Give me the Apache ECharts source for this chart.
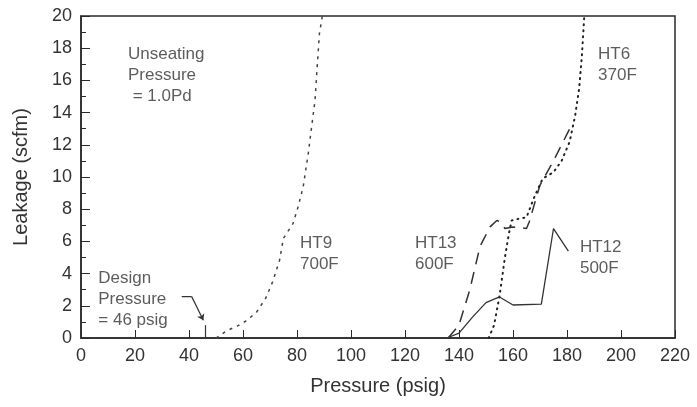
<!DOCTYPE html>
<html>
<head>
<meta charset="utf-8">
<script src="https://cdn.jsdelivr.net/npm/echarts@6/dist/echarts.min.js"></script>
<style>
  html, body { margin: 0; padding: 0; background: #fff; }
  #chart { width: 697px; height: 407px; }
</style>
</head>
<body>
<div id="chart"></div>
<script>
// leakage curves, [pressure psig, leakage scfm]
var ht9 = [[50,0],[54,0.45],[58,0.75],[61,1.05],[65,1.6],[68.5,2.5],[71,3.5],[73.5,4.8],[75,6.2],[78.5,7.1],[80.5,8.2],[82.3,9.4],[84.2,11.5],[85.4,13.1],[86.7,14.8],[87.5,16.9],[88.3,18.9],[89.4,20]];
var ht13 = [[136,0],[140,0.8],[144,3],[147.8,5.7],[151.5,6.9],[154,7.3],[155.5,7.2],[157,6.8],[160,6.9],[165,6.8],[166,7.2],[170,9.5],[175,11],[181,13]];
var ht6 = [[151,0],[153,0.8],[155,2.6],[157,5],[158.5,6.5],[159.5,7.3],[162,7.4],[165,7.5],[168,8.8],[171,9.9],[175,10.3],[178,11],[181,12.2],[183,13.8],[184.5,15.5],[185.5,17.5],[186.4,20]];
var ht12 = [[135.5,0],[140,0.3],[145,1.3],[150,2.2],[155,2.55],[160,2.05],[170.5,2.1],[175,6.8],[180.5,5.4]];

var xTicks = [0, 220, 20];
var yTicks = [0, 20, 2];

// text notes: [x, y, text]
var notes = [
  [17.4, 16.3, 'Unseating\nPressure\n = 1.0Pd'],
  [81.1, 5.25, 'HT9\n700F'],
  [123.7, 5.2, 'HT13\n600F'],
  [184.8, 5.0, 'HT12\n500F'],
  [191.5, 16.96, 'HT6\n370F'],
  [6.4, 2.4, 'Design\nPressure\n= 46 psig']
];
var designLeader = [[37.3,2.57],[41,2.57],[45.3,1.1]];
var designMark = 46;

var font = 'Liberation Sans, Arial, sans-serif';
var ink = '#2a2a2a';

var chart = echarts.init(document.getElementById('chart'));
var option = {
  animation: false,
  backgroundColor: '#fff',
  grid: { left: 81, right: 22, top: 16, bottom: 69, show: true, borderColor: ink, borderWidth: 1.5 },
  xAxis: {
    type: 'value', min: xTicks[0], max: xTicks[1], interval: xTicks[2],
    name: 'Pressure (psig)', nameLocation: 'middle', nameGap: 38,
    nameTextStyle: { fontFamily: font, fontSize: 20, color: '#333' },
    axisLine: { lineStyle: { color: ink, width: 1.5 } },
    axisTick: { inside: true, length: 8, lineStyle: { color: ink } },
    axisLabel: { fontFamily: font, fontSize: 18, color: '#333', margin: 9 },
    splitLine: { show: false }
  },
  yAxis: {
    type: 'value', min: yTicks[0], max: yTicks[1], interval: yTicks[2],
    name: 'Leakage (scfm)', nameLocation: 'middle', nameGap: 50,
    nameTextStyle: { fontFamily: font, fontSize: 20, color: '#333' },
    axisLine: { lineStyle: { color: ink, width: 1.5 } },
    axisTick: { inside: true, length: 9, lineStyle: { color: ink } },
    minorTick: { show: true, splitNumber: 2, length: 5, lineStyle: { color: ink } },
    axisLabel: { fontFamily: font, fontSize: 18, color: '#333', margin: 9 },
    splitLine: { show: false }
  },
  series: [
    { name: 'HT9', type: 'line', data: ht9, symbol: 'none',
      lineStyle: { color: '#444', width: 1.5, type: [3, 5] } },
    { name: 'HT13', type: 'line', data: ht13, symbol: 'none',
      lineStyle: { color: '#333', width: 1.5, type: [12, 8] } },
    { name: 'HT6', type: 'line', data: ht6, symbol: 'none',
      lineStyle: { color: '#222', width: 2, type: [1, 5], cap: 'round' } },
    { name: 'HT12', type: 'line', data: ht12, symbol: 'none',
      lineStyle: { color: '#333', width: 1.3 } },
    { name: 'design', type: 'line', data: designLeader.slice(0, 2), symbol: 'none',
      lineStyle: { color: '#333', width: 1.2 },
      markLine: {
        silent: true, symbol: ['none', 'none'],
        lineStyle: { color: '#333', width: 1.2, type: 'solid' },
        label: { show: false },
        data: [
          [{ coord: [designMark, 0] }, { coord: [designMark, 0.8] }],
          [{ coord: designLeader[1], symbol: 'none' }, { coord: designLeader[2], symbol: 'arrow', symbolSize: 6 }]
        ]
      } },
    { name: 'notes', type: 'scatter', symbolSize: 0, silent: true,
      data: notes.map(function (n) { return { value: [n[0], n[1]], text: n[2] }; }),
      label: {
        show: true, position: 'right', distance: 0, align: 'left',
        fontFamily: font, fontSize: 17, lineHeight: 21, color: '#333',
        formatter: function (p) { return p.data.text; }
      } }
  ]
};
chart.setOption(option);
</script>
</body>
</html>
